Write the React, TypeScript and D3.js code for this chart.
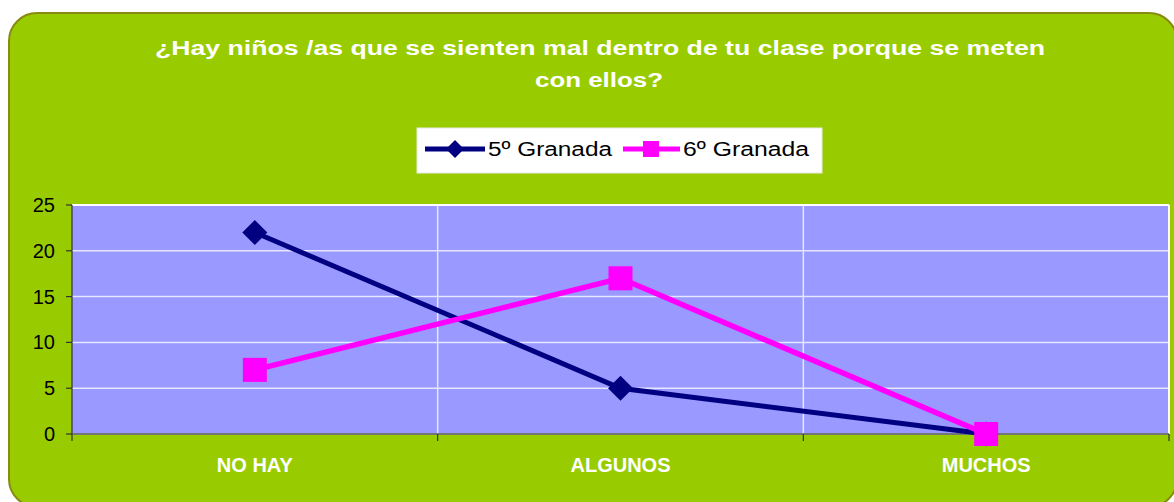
import React from "react";
import * as d3 from "d3";

const categories = ["NO HAY", "ALGUNOS", "MUCHOS"];
const series5 = [22, 5, 0];
const series6 = [7, 17, 0];
const seriesNames = ["5º Granada", "6º Granada"];
const yTicks = [0, 5, 10, 15, 20, 25];
const titleLines = [
  "¿Hay niños /as que se sienten mal dentro de tu clase porque se meten",
  "con ellos?",
];

const W = 1174;
const H = 502;
const FONT = "'Liberation Sans', Arial, sans-serif";

export default function App() {
  const plot = { left: 72, right: 1169, top: 205, bottom: 434 };
  const x = d3
    .scaleBand<string>()
    .domain(categories)
    .range([plot.left, plot.right])
    .paddingInner(0)
    .paddingOuter(0);
  const y = d3.scaleLinear().domain([0, 25]).range([plot.bottom, plot.top]);
  const cx = (c: string) => (x(c) as number) + x.bandwidth() / 2;

  const line = d3
    .line<number>()
    .x((_, i) => cx(categories[i]))
    .y((d) => y(d));

  const boundaries = [0, 1, 2, 3].map((i) => plot.left + i * x.bandwidth());

  const diamond = (px: number, py: number, r: number) =>
    `M${px},${py - r}L${px + r},${py}L${px},${py + r}L${px - r},${py}Z`;

  return (
    <svg
      width={W}
      height={H}
      style={{ position: "absolute", left: 0, top: 0, display: "block" }}
    >
      <rect x={0} y={0} width={W} height={H} fill="#ffffff" />
      <rect
        x={9}
        y={13}
        width={1168}
        height={494}
        rx={28}
        ry={28}
        fill="#99CC00"
        stroke="#8A8A10"
        strokeWidth={2}
      />
      {/* title */}
      <text
        x={600}
        y={55}
        textAnchor="middle"
        fill="#ffffff"
        fontFamily={FONT}
        fontWeight="bold"
        fontSize={21}
        textLength={890}
        lengthAdjust="spacingAndGlyphs"
      >
        {titleLines[0]}
      </text>
      <text
        x={599}
        y={87}
        textAnchor="middle"
        fill="#ffffff"
        fontFamily={FONT}
        fontWeight="bold"
        fontSize={21}
        textLength={128}
        lengthAdjust="spacingAndGlyphs"
      >
        {titleLines[1]}
      </text>

      {/* legend */}
      <rect x={417} y={128} width={405} height={45} fill="#ffffff" stroke="#e8e8e8" strokeWidth={1} />
      <line x1={425} x2={485} y1={149} y2={149} stroke="#000080" strokeWidth={5} />
      <path d={diamond(455, 149, 9)} fill="#000080" />
      <text x={488} y={156} fontFamily={FONT} fontSize={20} fill="#000000" textLength={124} lengthAdjust="spacingAndGlyphs">
        {seriesNames[0]}
      </text>
      <line x1={623} x2={680} y1={149} y2={149} stroke="#FF00FF" strokeWidth={5} />
      <rect x={643} y={141} width={16} height={16} fill="#FF00FF" />
      <text x={683} y={156} fontFamily={FONT} fontSize={20} fill="#000000" textLength={126} lengthAdjust="spacingAndGlyphs">
        {seriesNames[1]}
      </text>

      {/* plot area */}
      <rect
        x={plot.left}
        y={plot.top}
        width={plot.right - plot.left}
        height={plot.bottom - plot.top}
        fill="#9999FF"
      />
      {yTicks.map((t) => (
        <line
          key={"g" + t}
          x1={plot.left}
          x2={plot.right}
          y1={y(t)}
          y2={y(t)}
          stroke="#E6E6FF"
          strokeWidth={1.5}
        />
      ))}
      {boundaries.slice(1, 3).map((b, i) => (
        <line key={"v" + i} x1={b} x2={b} y1={plot.top} y2={plot.bottom} stroke="#E6E6FF" strokeWidth={1.5} />
      ))}
      <line x1={plot.left} x2={plot.right} y1={plot.top} y2={plot.top} stroke="#ffffff" strokeWidth={2} />
      <line x1={plot.right} x2={plot.right} y1={plot.top} y2={plot.bottom} stroke="#ffffff" strokeWidth={2} />

      {/* axes */}
      <line x1={plot.left} x2={plot.left} y1={plot.top} y2={plot.bottom} stroke="#333" strokeWidth={1.2} />
      <line x1={plot.left} x2={plot.right} y1={plot.bottom} y2={plot.bottom} stroke="#555" strokeWidth={1.5} />
      {yTicks.map((t) => (
        <g key={"t" + t}>
          <line x1={plot.left - 6} x2={plot.left} y1={y(t)} y2={y(t)} stroke="#333" strokeWidth={1.2} />
          <text
            x={55}
            y={y(t)}
            dy="0.35em"
            textAnchor="end"
            fontFamily={FONT}
            fontSize={20}
            fill="#000000"
          >
            {t}
          </text>
        </g>
      ))}
      {boundaries.map((b, i) => (
        <line key={"xt" + i} x1={b} x2={b} y1={plot.bottom} y2={plot.bottom + 7} stroke="#333" strokeWidth={1.2} />
      ))}
      {categories.map((c) => (
        <text
          key={c}
          x={cx(c)}
          y={472}
          textAnchor="middle"
          fontFamily={FONT}
          fontWeight="bold"
          fontSize={20}
          fill="#ffffff"
        >
          {c}
        </text>
      ))}

      {/* series */}
      <path d={line(series5) || ""} fill="none" stroke="#000080" strokeWidth={5} />
      {series5.map((v, i) => (
        <path key={"d" + i} d={diamond(cx(categories[i]), y(v), 12.5)} fill="#000080" />
      ))}
      <path d={line(series6) || ""} fill="none" stroke="#FF00FF" strokeWidth={5.5} />
      {series6.map((v, i) => (
        <rect
          key={"s" + i}
          x={cx(categories[i]) - 12}
          y={y(v) - 12}
          width={24}
          height={24}
          fill="#FF00FF"
        />
      ))}
    </svg>
  );
}
